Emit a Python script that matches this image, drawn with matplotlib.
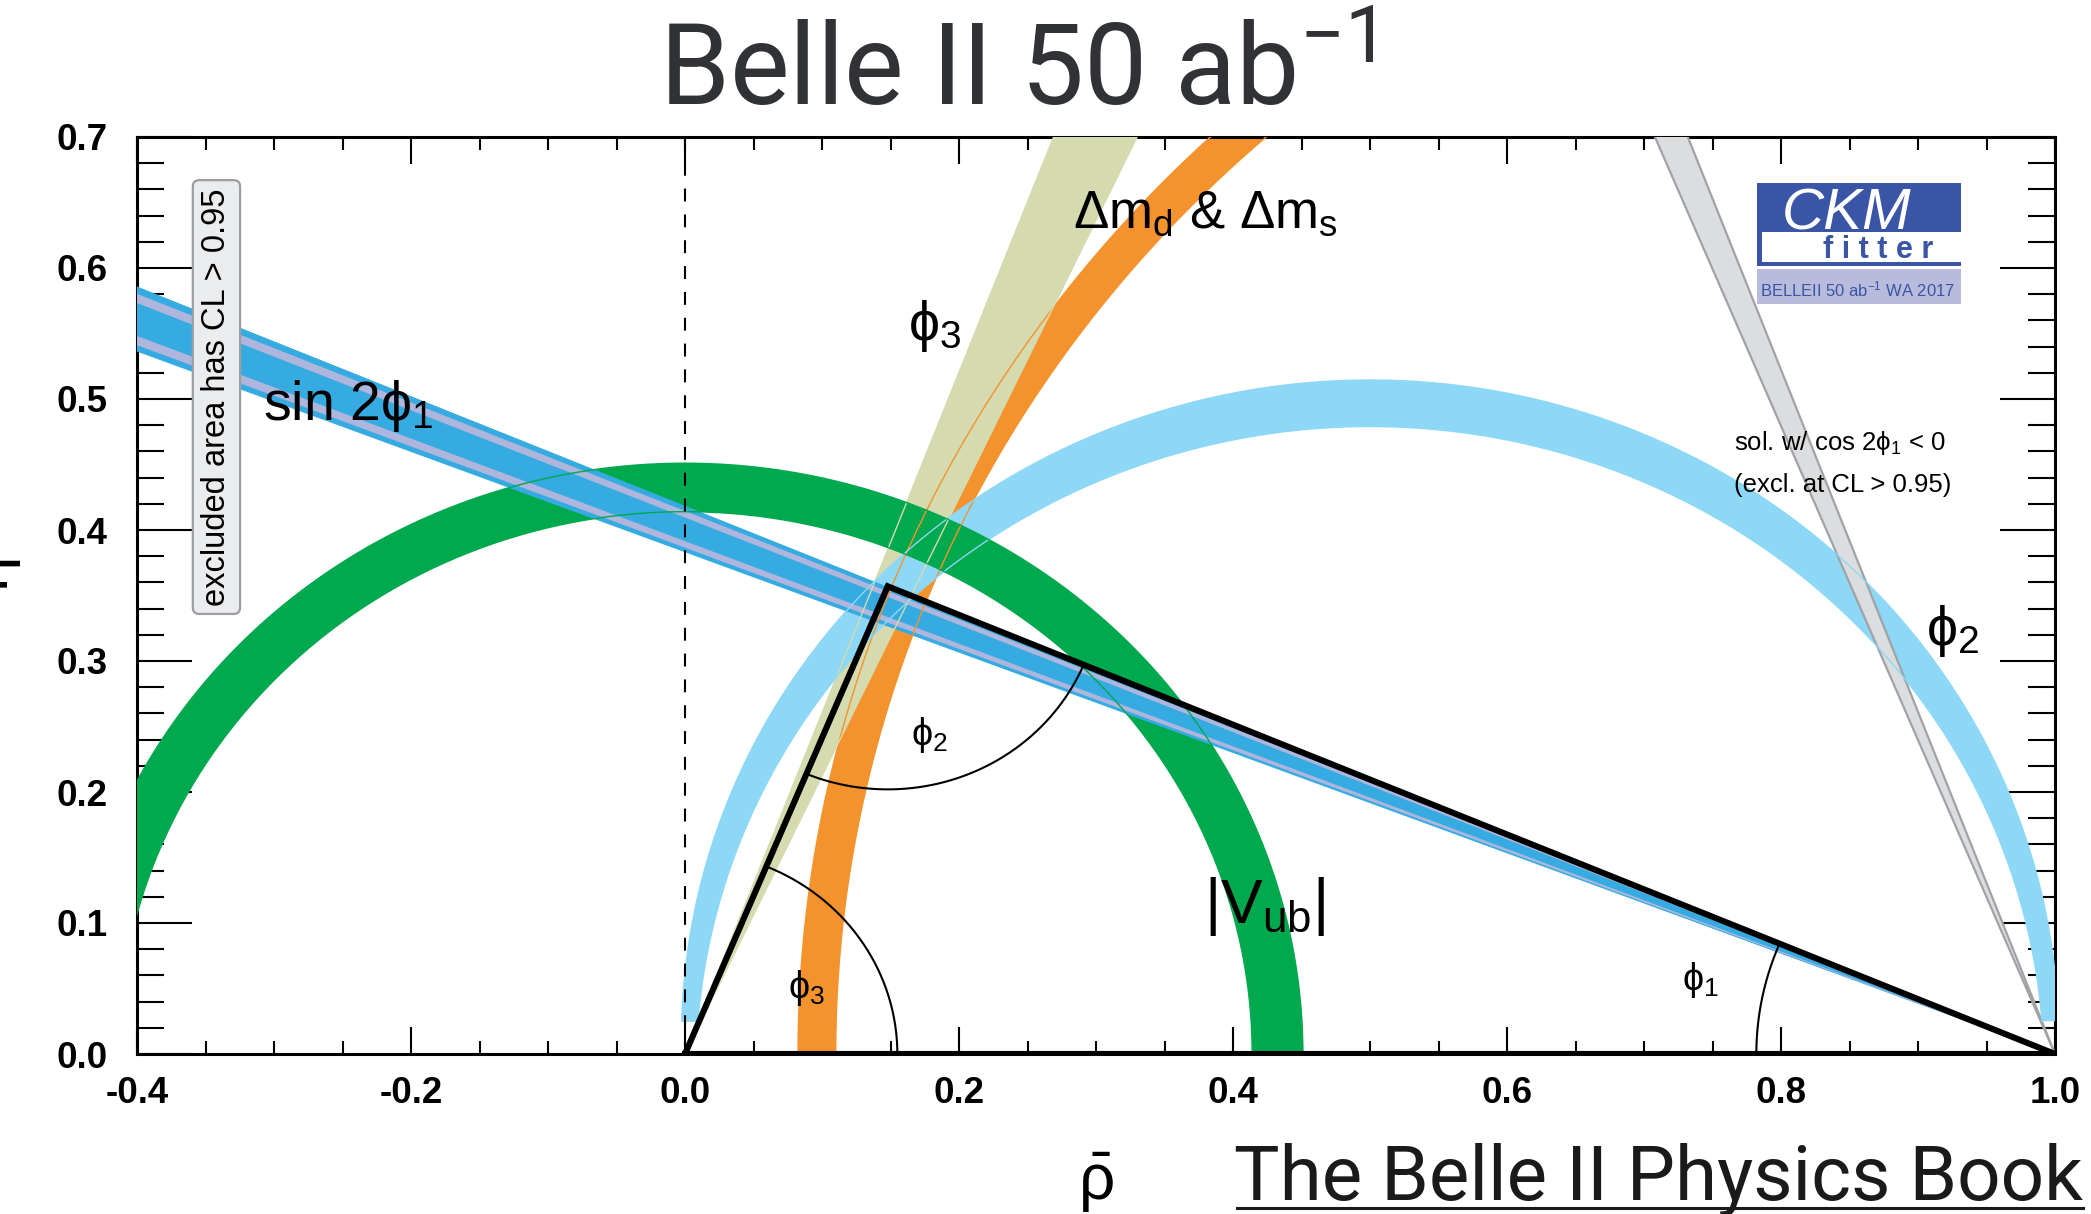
import numpy as np
import matplotlib.pyplot as plt
from matplotlib.patches import Rectangle, Polygon
from matplotlib.lines import Line2D
from matplotlib.ticker import MultipleLocator, FormatStrFormatter

plt.rcParams['font.family'] = ['Liberation Sans', 'DejaVu Sans']
plt.rcParams['mathtext.fontset'] = 'custom'
plt.rcParams['mathtext.rm'] = 'Liberation Sans'
plt.rcParams['mathtext.it'] = 'Liberation Sans:italic'
plt.rcParams['mathtext.bf'] = 'Liberation Sans:bold'
plt.rcParams['axes.unicode_minus'] = False

# sommet du triangle (rho, eta)
rho_apex = 0.148
eta_apex = 0.357

# sin 2phi1 : droites issues de (1,0), eta lu a rho = 0
sin2phi1_eta0 = [0.383, 0.4185]
sin2phi1_bandes = [[0.3865, 0.3915], [0.4095, 0.4145]]

# phi3 : droites issues de (0,0), rho lu a eta = 0.7
phi3_rho_top = [0.269, 0.330]

# solution cos 2phi1 < 0 : droites issues de (1,0), rho lu a eta = 0.7
sol2_rho_top = [0.708, 0.732]

# |Vub| : anneau centre en (0,0)
vub_rayons = [0.414, 0.451]

# dm_d & dm_s : anneau centre en (1.047, 0)
dm_centre = 1.047
dm_rayons = [0.937, 0.9645]

# phi2 : deux cercles centres en rho = 0.5
phi2_centre_eta = [0.012, -0.013]
phi2_rayons = [0.5025, 0.492]
phi2_eta_min = 0.025

# arcs des angles : phi3, phi2, phi1
arc_rayons = [0.155, 0.155, 0.218]

# couleurs
c_bleu = '#35abe1'
c_lavande = '#aeb6de'
c_vert = '#00a84e'
c_cyan = '#8dd8f6'
c_orange = '#f4932d'
c_kaki = '#d5dbae'
c_gris = '#dcdddf'
c_gris_bord = '#a0a2a5'
c_logo = '#3a55a5'

W, H = 2091, 1214
fig = plt.figure(figsize=(W / 100, H / 100), dpi=100)
ax = fig.add_axes([137 / W, 1 - 1054 / H, 1918 / W, 917 / H])
ax.set_xlim(-0.4, 1.0)
ax.set_ylim(0.0, 0.7)


def coin(x0, y0, pts):
    # coin (wedge) issu de (x0,y0) passant par les points donnes
    return [(x0, y0)] + [(x0 + 3 * (px - x0), y0 + 3 * (py - y0)) for px, py in pts]


def anneau(cx, cy, r1, r2):
    t1 = np.linspace(0, np.pi, 400)
    t2 = np.linspace(np.pi, 0, 400)
    xs = np.concatenate([cx + r1 * np.cos(t1), cx + r2 * np.cos(t2)])
    ys = np.concatenate([cy + r1 * np.sin(t1), cy + r2 * np.sin(t2)])
    return xs, ys


contours = []

# Dm
xs, ys = anneau(dm_centre, 0.0, dm_rayons[1], dm_rayons[0])
ax.fill(xs, ys, color=c_orange, lw=0, zorder=2)
contours.append((xs, ys, c_orange))

# phi3
p = coin(0.0, 0.0, [(phi3_rho_top[0], 0.7), (phi3_rho_top[1], 0.7)])
ax.add_patch(Polygon(p, closed=True, fc=c_kaki, lw=0, zorder=3))
pp = np.array(p + [p[0]])
contours.append((pp[:, 0], pp[:, 1], c_kaki))

# phi2
cx1, cy1, r1 = 0.5, phi2_centre_eta[0], phi2_rayons[0]
cx2, cy2, r2 = 0.5, phi2_centre_eta[1], phi2_rayons[1]
a1 = np.arcsin((phi2_eta_min - cy1) / r1)
a2 = np.arcsin((phi2_eta_min - cy2) / r2)
t1 = np.linspace(a1, np.pi - a1, 500)
t2 = np.linspace(np.pi - a2, a2, 500)
xs = np.concatenate([cx1 + r1 * np.cos(t1), cx2 + r2 * np.cos(t2)])
ys = np.concatenate([cy1 + r1 * np.sin(t1), cy2 + r2 * np.sin(t2)])
ax.fill(xs, ys, color=c_cyan, lw=0, zorder=4)
contours.append((xs, ys, c_cyan))

# |Vub|
xs, ys = anneau(0.0, 0.0, vub_rayons[1], vub_rayons[0])
ax.fill(xs, ys, color=c_vert, lw=0, zorder=5)
contours.append((xs, ys, c_vert))

# sin 2phi1
p = coin(1.0, 0.0, [(0.0, sin2phi1_eta0[0]), (0.0, sin2phi1_eta0[1])])
ax.add_patch(Polygon(p, closed=True, fc=c_bleu, lw=0, zorder=6))
for lo, hi in sin2phi1_bandes:
    q = coin(1.0, 0.0, [(0.0, lo), (0.0, hi)])
    ax.add_patch(Polygon(q, closed=True, fc=c_lavande, lw=0, zorder=6.5))

# solution exclue
p = coin(1.0, 0.0, [(sol2_rho_top[0], 0.7), (sol2_rho_top[1], 0.7)])
ax.add_patch(Polygon(p, closed=True, fc=c_gris, ec=c_gris_bord, lw=1.6, zorder=7))

for xs, ys, c in contours:
    ax.plot(xs, ys, color=c, lw=1.0, zorder=8)

# ligne pointillee rho = 0
ax.plot([0, 0], [0, 0.7], color='black', lw=1.5, ls=(0, (6.2, 6.2)), zorder=9)

# triangle
ax.plot([0, rho_apex, 1, 0], [0, eta_apex, 0, 0], color='black', lw=4.4,
        solid_joinstyle='miter', zorder=10)

# arcs
a_sommet = np.arctan2(eta_apex, rho_apex)
t = np.linspace(0, a_sommet, 200)
ax.plot(arc_rayons[0] * np.cos(t), arc_rayons[0] * np.sin(t), color='black', lw=1.5, zorder=10)
t = np.linspace(np.arctan2(-eta_apex, -rho_apex), np.arctan2(-eta_apex, 1 - rho_apex), 200)
ax.plot(rho_apex + arc_rayons[1] * np.cos(t), eta_apex + arc_rayons[1] * np.sin(t),
        color='black', lw=1.5, zorder=10)
t = np.linspace(np.arctan2(eta_apex, rho_apex - 1), np.pi, 200)
ax.plot(1 + arc_rayons[2] * np.cos(t), arc_rayons[2] * np.sin(t), color='black', lw=1.5, zorder=10)

# textes dans le graphe
ax.text(-0.308, 0.484, r'sin 2$\mathregular{\phi_1}$', fontsize=40, zorder=11)
ax.text(0.283, 0.631, r'$\mathregular{\Delta m_d}$ & $\mathregular{\Delta m_s}$', fontsize=38, zorder=11)
ax.text(0.163, 0.545, r'$\mathregular{\phi_3}$', fontsize=40, zorder=11)
ax.text(0.379, 0.10, r'$\mathregular{|V_{ub}|}$', fontsize=45, zorder=11)
ax.text(0.906, 0.312, r'$\mathregular{\phi_2}$', fontsize=40, zorder=11)
ax.text(0.165, 0.236, r'$\mathregular{\phi_2}$', fontsize=27, zorder=11)
ax.text(0.075, 0.043, r'$\mathregular{\phi_3}$', fontsize=27, zorder=11)
ax.text(0.728, 0.049, r'$\mathregular{\phi_1}$', fontsize=27, zorder=11)
ax.text(0.766, 0.461, r'sol. w/ cos 2$\mathregular{\phi_1}$ < 0', fontsize=18.5, zorder=11)
ax.text(0.766, 0.429, '(excl. at CL > 0.95)', fontsize=18.5, zorder=11)
ax.text(-0.342, 0.5015, 'excluded area has CL > 0.95', fontsize=23.5, rotation=90,
        ha='center', va='center', zorder=11,
        bbox=dict(boxstyle='round,pad=0.25,rounding_size=0.2', fc='#ebecee', ec='#9c9ea1', lw=1.6))

# axes
ax.xaxis.set_major_locator(MultipleLocator(0.2))
ax.xaxis.set_minor_locator(MultipleLocator(0.05))
ax.yaxis.set_major_locator(MultipleLocator(0.1))
ax.yaxis.set_minor_locator(MultipleLocator(0.02))
ax.xaxis.set_major_formatter(FormatStrFormatter('%.1f'))
ax.yaxis.set_major_formatter(FormatStrFormatter('%.1f'))
ax.tick_params(axis='both', which='both', direction='in', top=True, right=True, width=1.5)
ax.tick_params(axis='x', which='major', length=19.5, pad=16)
ax.tick_params(axis='x', which='minor', length=9.5)
ax.tick_params(axis='y', which='major', length=39.5, pad=21)
ax.tick_params(axis='y', which='minor', length=19.5)
for lab in ax.get_xticklabels() + ax.get_yticklabels():
    lab.set_fontsize(26.5)
    lab.set_fontweight('bold')
for s in ax.spines.values():
    s.set_linewidth(2.2)

# titre et legendes hors axes
titre_font = ['Liberation Sans Narrow', 'Roboto', 'DejaVu Sans']
fig.text(1017 / W, 1 - 105 / H, r'Belle II 50 ab$^{\mathregular{-1}}$',
         fontsize=81, color='#303236', family=titre_font, ha='center', va='baseline')
fig.text(2083 / W, 1 - 1200 / H, 'The Belle II Physics Book', fontsize=55, color='#1a1a1a',
         family=titre_font, ha='right', va='baseline')
fig.add_artist(Line2D([1237 / W, 2083 / W], [1 - 1208 / H, 1 - 1208 / H], color='#1a1a1a',
                      lw=2.2, transform=fig.transFigure))
fig.text(1096 / W, 1 - 1200 / H, r'$\mathregular{\bar{\rho}}$', fontsize=46, ha='center', va='baseline')
fig.text(-8 / W, 1 - 575 / H, r'$\mathregular{\bar{\eta}}$', fontsize=46, rotation=90,
         ha='center', va='center')


# logo CKMfitter
def rect_px(x1, y1, x2, y2, **kw):
    r = Rectangle((x1 / W, 1 - y2 / H), (x2 - x1) / W, (y2 - y1) / H, transform=fig.transFigure, **kw)
    fig.add_artist(r)


rect_px(1757, 183, 1961, 233, fc=c_logo, lw=0)
rect_px(1757, 232, 1961, 266, fc=c_logo, lw=0)
rect_px(1762, 232, 1961, 262, fc='white', lw=0)
rect_px(1757, 269, 1961, 304, fc='#b8bbdc', lw=0)
fig.text(1782 / W, 1 - 229 / H, 'CKM', fontsize=42, style='italic', color='white', va='baseline')
fig.text(1823 / W, 1 - 258 / H, 'f i t t e r', fontsize=22, weight='bold', color=c_logo, va='baseline')
fig.text(1760 / W, 1 - 296 / H, r'BELLEII 50 ab$^{\mathregular{-1}}$ WA 2017', fontsize=12,
         color=c_logo, va='baseline')

fig.savefig('out.png', dpi=100)
